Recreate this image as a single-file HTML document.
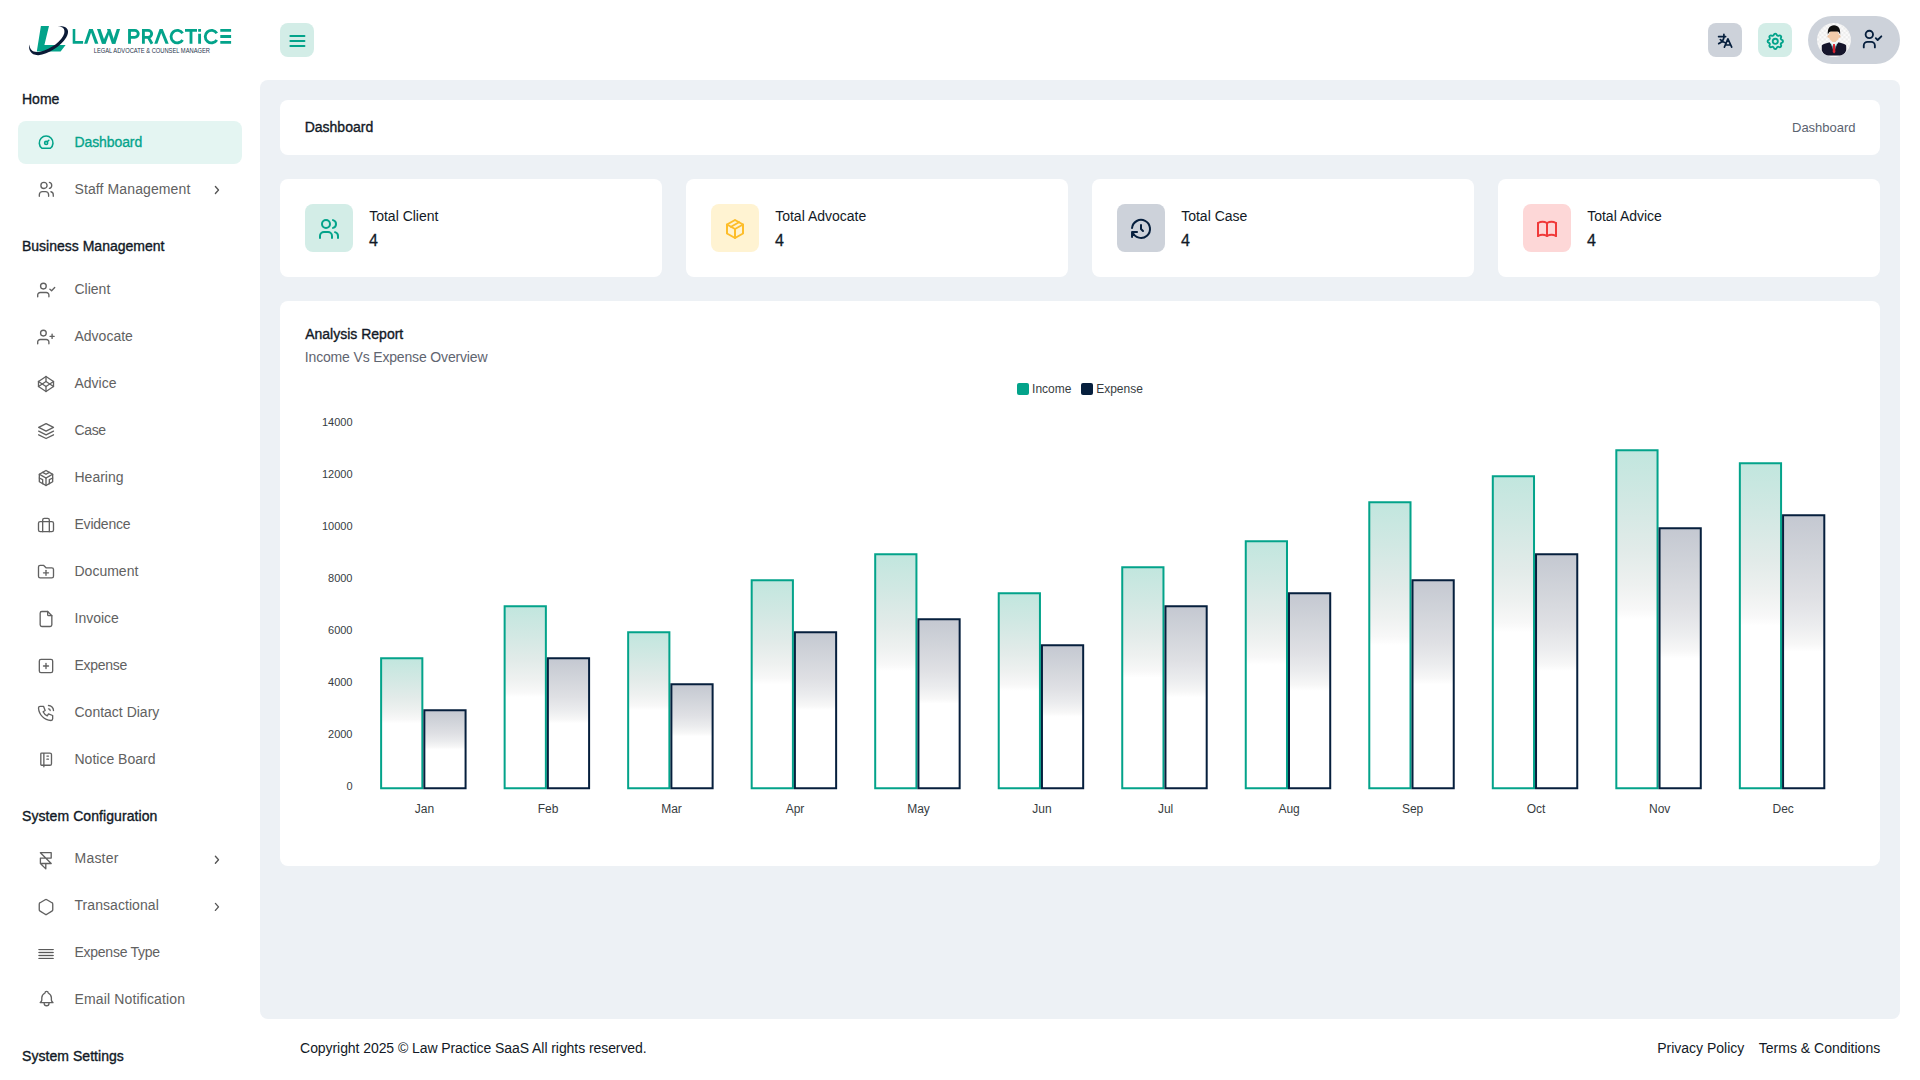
<!DOCTYPE html>
<html><head><meta charset="utf-8"><title>Law Practice - Dashboard</title><style>
*{box-sizing:border-box;margin:0;padding:0}
html,body{width:1920px;height:1080px;overflow:hidden;background:#fff;font-family:"Liberation Sans",sans-serif;color:#121926}
.a{position:absolute;white-space:nowrap}
.cap{position:absolute;left:22px;font-size:14px;line-height:16px;color:#121926;-webkit-text-stroke:0.35px #121926;white-space:nowrap}
.it{position:absolute;left:18px;width:224px;height:43px;border-radius:8px}
.it .t{position:absolute;left:56.5px;top:13px;font-size:14px;line-height:16px;color:#616161;white-space:nowrap}
.it.act{background:#e4f5f2}
.it.act .t{color:#03a38a;-webkit-text-stroke:0.3px #03a38a;letter-spacing:-0.1px !important}
.main{position:absolute;left:260px;top:80px;width:1640px;height:939px;background:#edf1f5;border-radius:8px}
.card{position:absolute;background:#fff;border-radius:8px}
.ib{position:absolute;left:25px;top:25px;width:48px;height:48px;border-radius:8px}
.sl{position:absolute;left:88px;top:208px;font-size:14px;line-height:16px;color:#121926;white-space:nowrap}
.sv{position:absolute;font-size:16px;line-height:18px;color:#121926;-webkit-text-stroke:0.3px #121926}
.foot{position:absolute;top:1040px;font-size:14px;line-height:16px;color:#121926;white-space:nowrap}
</style></head>
<body>
<svg class="a" style="left:0;top:0" width="260" height="80" viewBox="0 0 260 80">
  <path d="M40.9 26 L49 26 L44.4 44.9 L65.6 44.9 L60.6 51.4 L36.8 51.4 Z" fill="#03a38a"/>
  <path d="M29.6 44.6 C27.8 49.5 31 55.6 38.5 55.2 C48 54.8 61 46 66.2 37.6 C69.6 32 68.4 26.8 62 26.2 C60.5 26.1 59.2 26.2 57.8 26.5 C62.5 26.3 65.4 28.8 64.2 33.6 C62.5 40 51.5 49.5 40 51.8 C33.5 53 29.6 50.5 29.6 44.6 Z" fill="#0b1a36"/>
  <g fill="#03a38a">
    <path d="M72.7 29 H75.3 V41 H83.1 V43.8 H72.7 Z"/>
    <path d="M84.1 43.8 L89.1 29 L92.8 29 L98.4 43.8 L95 43.8 L91.1 32.4 L87.3 43.8 Z"/>
    <path d="M97 29 L100.5 29 L105.6 43.8 L101.9 43.8 Z"/>
    <path d="M101.9 43.8 L105.6 43.8 L109.6 32.6 L107.9 30.6 Z"/>
    <path d="M107 29 L110.4 29 L115.4 43.8 L111.9 43.8 Z"/>
    <path d="M111.9 43.8 L115.4 43.8 L120.1 29 L116.8 29 Z"/>
  </g>
  <g fill="none" stroke="#03a38a" stroke-width="2.85">
    <path d="M129.5 43.8 V30.4 H134.8 A3.45 3.45 0 0 1 134.8 37.3 H129.5"/>
    <path d="M143.4 43.8 V30.4 H148.2 A3.45 3.45 0 0 1 148.2 37.3 H143.4 M148.3 37.3 L152 43.8"/>
    <path d="M182.6 33.3 A6.25 6.25 0 1 0 182.6 39.9"/>
    <path d="M185 30.35 H197 M191 30.35 V43.8"/>
    <path d="M199.6 33.8 V43.8 M199.6 28.9 V31.7"/>
    <path d="M216.8 33.3 A6.25 6.25 0 1 0 216.8 39.9"/>
    <path d="M220.3 30.35 H231.1 M220.3 36.5 H231.1 M220.3 42.4 H231.1"/>
  </g>
  <path fill="#03a38a" d="M154.3 43.8 L159.6 29 L162.7 29 L168.7 43.8 L165.5 43.8 L161.2 33 L157.4 43.8 Z"/>
  <text x="93.7" y="53.1" font-family="Liberation Sans" font-size="7.2" fill="#27344d" textLength="116.3" lengthAdjust="spacingAndGlyphs">LEGAL ADVOCATE &amp; COUNSEL MANAGER</text>
</svg>
<div class="a" style="left:280px;top:23px;width:34px;height:34px;border-radius:8px;background:#d3ede7"></div>
<svg class="a" style="left:287px;top:30.8px;overflow:visible" width="20" height="20" viewBox="0 0 24 24" fill="none" stroke="#03a38a" stroke-width="2.3" stroke-linecap="round" stroke-linejoin="round" ><path d="M4 6h17"/><path d="M4 12h17"/><path d="M4 18h17"/></svg>
<div class="a" style="left:1708px;top:23px;width:34px;height:34px;border-radius:8px;background:#cdd2da"></div>
<svg class="a" style="left:1708px;top:23px" width="34" height="34" viewBox="1708 23 34 34" fill="none" stroke="#061f3d" stroke-width="1.7" stroke-linecap="round" stroke-linejoin="round"><path d="M1718.6 36.6 H1725.6 M1723.9 34.4 V36.4 M1724.1 37 C1723.5 40 1721.5 42.5 1718.7 43.6 M1720.3 39.6 C1721.6 41.3 1723.3 42.3 1725.2 42.8"/><path d="M1724.4 47.1 L1727.9 38.9 L1731.7 47.1 M1725.5 45 H1730.7"/></svg>
<div class="a" style="left:1758px;top:23px;width:34px;height:34px;border-radius:8px;background:#d3ede7"></div>
<svg class="a" style="left:1765.1px;top:30.6px;overflow:visible" width="20.6" height="20.6" viewBox="0 0 24 24" fill="none" stroke="#03a38a" stroke-width="2.15" stroke-linecap="round" stroke-linejoin="round" ><path d="M10.325 4.317c.426 -1.756 2.924 -1.756 3.35 0a1.724 1.724 0 0 0 2.573 1.066c1.543 -.94 3.31 .826 2.37 2.37a1.724 1.724 0 0 0 1.065 2.572c1.756 .426 1.756 2.924 0 3.35a1.724 1.724 0 0 0 -1.066 2.573c.94 1.543 -.826 3.31 -2.37 2.37a1.724 1.724 0 0 0 -2.572 1.065c-.426 1.756 -2.924 1.756 -3.35 0a1.724 1.724 0 0 0 -2.573 -1.066c-1.543 .94 -3.31 -.826 -2.37 -2.37a1.724 1.724 0 0 0 -1.065 -2.572c-1.756 -.426 -1.756 -2.924 0 -3.35a1.724 1.724 0 0 0 1.066 -2.573c-.94 -1.543 .826 -3.31 2.37 -2.37c1 .608 2.296 .07 2.572 -1.065z"/><circle cx="12" cy="12" r="3"/></svg>
<div class="a" style="left:1808px;top:16px;width:92px;height:48px;border-radius:24px;background:#cdd2da"></div>
<svg class="a" style="left:1817px;top:23px" width="34" height="34" viewBox="0 0 34 34">
  <defs><clipPath id="avc"><circle cx="17" cy="17" r="17"/></clipPath>
  <pattern id="chk" width="4.4" height="4.4" patternUnits="userSpaceOnUse"><rect width="4.4" height="4.4" fill="#fbfbfb"/><rect width="2.2" height="2.2" fill="#ededed"/><rect x="2.2" y="2.2" width="2.2" height="2.2" fill="#ededed"/></pattern></defs>
  <circle cx="17" cy="17" r="17" fill="url(#chk)"/>
  <g clip-path="url(#avc)">
    <rect x="15.2" y="15.5" width="3.8" height="5" fill="#e9bd9a"/>
    <path d="M4.8 22.6 C5.6 21 9 20 13 19.2 L17 23.5 L21.2 19.2 C25.2 20 28.5 21 29.2 22.6 L29.2 27.6 L26.6 32.6 L7.4 32.6 L4.8 27.6 Z" fill="#15152b"/>
    <path d="M12.9 18.8 L21.1 18.8 L21.3 19.4 L17 25 L12.7 19.4 Z" fill="#f1f6f6"/>
    <path d="M13.4 19.6 L16 26.8 L15.6 22.8 Z M20.6 19.6 L18 26.8 L18.4 22.8 Z" fill="#7dd0d6"/>
    <path d="M16.1 21 L17.9 21 L18.4 29 L17.1 30.6 L15.7 29 Z" fill="#d8222f"/>
    <ellipse cx="11.4" cy="13.4" rx="0.9" ry="1.4" fill="#eec19e"/>
    <ellipse cx="22.6" cy="13.4" rx="0.9" ry="1.4" fill="#eec19e"/>
    <ellipse cx="17" cy="12.9" rx="5.2" ry="5.8" fill="#f3ccaa"/>
    <path d="M10.9 11.8 C10.2 5.6 12.6 2.2 17 2.2 C21.4 2.2 23.8 5.6 23.1 11.8 C22.6 9.4 21.8 8.2 19.6 8.4 C17.6 8.6 14.6 8.1 13 8.7 C11.8 9.3 11.3 10.3 10.9 11.8 Z" fill="#0d0d0d"/>
  </g>
</svg>
<svg class="a" style="left:1861.2px;top:28.1px;overflow:visible" width="22.2" height="22.2" viewBox="0 0 24 24" fill="none" stroke="#061f3d" stroke-width="2" stroke-linecap="round" stroke-linejoin="round" ><circle cx="9" cy="7" r="4"/><path d="M3 21v-2a4 4 0 0 1 4 -4h4a4 4 0 0 1 4 4v2"/><path d="M16 11l2 2l4 -4"/></svg>
<div class="cap" style="top:91px;letter-spacing:0px">Home</div>
<div class="cap" style="top:238px;letter-spacing:0px">Business Management</div>
<div class="cap" style="top:808px;letter-spacing:0.08px">System Configuration</div>
<div class="cap" style="top:1048px;letter-spacing:0.05px">System Settings</div>
<div class="it act" style="top:121px"><div class="t" style="letter-spacing:0px">Dashboard</div></div>
<svg class="a" style="left:37.3px;top:132.6px;overflow:visible" width="18.3" height="18.3" viewBox="0 0 24 24" fill="none" stroke="#03a38a" stroke-width="2.05" stroke-linecap="round" stroke-linejoin="round" ><circle cx="12" cy="13" r="2"/><path d="M13.45 11.55l2.05 -2.05"/><path d="M6.4 20a9 9 0 1 1 11.2 0z"/></svg>
<div class="it" style="top:168px"><div class="t" style="letter-spacing:0.11px">Staff Management</div></div>
<svg class="a" style="left:36.9px;top:179.5px;overflow:visible" width="18.6" height="18.6" viewBox="0 0 24 24" fill="none" stroke="#616161" stroke-width="1.72" stroke-linecap="round" stroke-linejoin="round" ><circle cx="9" cy="7" r="4"/><path d="M3 21v-2a4 4 0 0 1 4 -4h4a4 4 0 0 1 4 4v2"/><path d="M16 3.13a4 4 0 0 1 0 7.75"/><path d="M21 21v-2a4 4 0 0 0 -3 -3.85"/></svg>
<svg class="a" style="left:206px;top:168px" width="20" height="43" viewBox="0 0 20 43"><path d="M9.4 18.5 l3.1 3.5 l-3.1 3.5" fill="none" stroke="#555" stroke-width="1.35" stroke-linecap="round" stroke-linejoin="round"/></svg>
<div class="it" style="top:268px"><div class="t" style="letter-spacing:0px">Client</div></div>
<svg class="a" style="left:0;top:268px;overflow:visible" width="60" height="43" viewBox="0 0 60 43" fill="none" stroke="#616161" stroke-width="1.35" stroke-linecap="round" stroke-linejoin="round"><circle cx="43.4" cy="18.1" r="2.85"/><path d="M37.7 28.7 v-1.6 a2.6 2.6 0 0 1 2.6 -2.6 h6.0 a2.6 2.6 0 0 1 2.6 2.6 v1.6"/><path d="M49.9 21.2 l1.7 1.5 l3.1 -3.2"/></svg>
<div class="it" style="top:315px"><div class="t" style="letter-spacing:0px">Advocate</div></div>
<svg class="a" style="left:0;top:315px;overflow:visible" width="60" height="43" viewBox="0 0 60 43" fill="none" stroke="#616161" stroke-width="1.35" stroke-linecap="round" stroke-linejoin="round"><circle cx="43.4" cy="18.1" r="2.85"/><path d="M37.7 28.7 v-1.6 a2.6 2.6 0 0 1 2.6 -2.6 h6.0 a2.6 2.6 0 0 1 2.6 2.6 v1.6"/><path d="M50 21.3 h4.2 M52.1 19.1 v4.3"/></svg>
<div class="it" style="top:362px"><div class="t" style="letter-spacing:0px">Advice</div></div>
<svg class="a" style="left:36.2px;top:374px;overflow:visible" width="20" height="20" viewBox="0 0 24 24" fill="none" stroke="#616161" stroke-width="1.6" stroke-linecap="round" stroke-linejoin="round" ><path d="M3 15l9 6l9 -6l-9 -6l-9 6"/><path d="M3 9l9 6l9 -6l-9 -6l-9 6"/><path d="M3 9l0 6"/><path d="M21 9l0 6"/><path d="M12 3l0 6"/><path d="M12 15l0 6"/></svg>
<div class="it" style="top:409px"><div class="t" style="letter-spacing:-0.35px">Case</div></div>
<svg class="a" style="left:34.9px;top:419.8px;overflow:visible" width="22.2" height="22.2" viewBox="0 0 24 24" fill="none" stroke="#616161" stroke-width="1.44" stroke-linecap="round" stroke-linejoin="round" ><path d="M12 4l-8 4l8 4l8 -4l-8 -4"/><path d="M4 12l8 4l8 -4"/><path d="M4 16l8 4l8 -4"/></svg>
<div class="it" style="top:456px"><div class="t" style="letter-spacing:0px">Hearing</div></div>
<svg class="a" style="left:36.2px;top:468px;overflow:visible" width="20" height="20" viewBox="0 0 24 24" fill="none" stroke="#616161" stroke-width="1.6" stroke-linecap="round" stroke-linejoin="round" ><path d="M20 7.5v9l-4 2.25l-4 2.25l-4 -2.25l-4 -2.25v-9l4 -2.25l4 -2.25l4 2.25z"/><path d="M12 12l4 -2.25l4 -2.25"/><path d="M12 12l0 9"/><path d="M12 12l-4 -2.25l-4 -2.25"/><path d="M20 12l-4 2v4.75"/><path d="M4 12l4 2l0 4.75"/><path d="M8 5.25l4 2.25l4 -2.25"/></svg>
<div class="it" style="top:503px"><div class="t" style="letter-spacing:-0.22px">Evidence</div></div>
<svg class="a" style="left:36.2px;top:515px;overflow:visible" width="20" height="20" viewBox="0 0 24 24" fill="none" stroke="#616161" stroke-width="1.6" stroke-linecap="round" stroke-linejoin="round" ><rect x="3" y="8" width="18" height="12" rx="2"/><path d="M8 20v-14a2 2 0 0 1 2 -2h4a2 2 0 0 1 2 2v14"/></svg>
<div class="it" style="top:550px"><div class="t" style="letter-spacing:0px">Document</div></div>
<svg class="a" style="left:36.2px;top:562px;overflow:visible" width="20" height="20" viewBox="0 0 24 24" fill="none" stroke="#616161" stroke-width="1.6" stroke-linecap="round" stroke-linejoin="round" ><path d="M5 4h4l3 3h7a2 2 0 0 1 2 2v8a2 2 0 0 1 -2 2h-14a2 2 0 0 1 -2 -2v-11a2 2 0 0 1 2 -2"/><path d="M12 10v6"/><path d="M9 13h6"/></svg>
<div class="it" style="top:597px"><div class="t" style="letter-spacing:0px">Invoice</div></div>
<svg class="a" style="left:36.2px;top:609px;overflow:visible" width="20" height="20" viewBox="0 0 24 24" fill="none" stroke="#616161" stroke-width="1.6" stroke-linecap="round" stroke-linejoin="round" ><path d="M14 3v4a1 1 0 0 0 1 1h4"/><path d="M17 21h-10a2 2 0 0 1 -2 -2v-14a2 2 0 0 1 2 -2h7l5 5v11a2 2 0 0 1 -2 2z"/></svg>
<div class="it" style="top:644px"><div class="t" style="letter-spacing:-0.28px">Expense</div></div>
<svg class="a" style="left:36.2px;top:656px;overflow:visible" width="20" height="20" viewBox="0 0 24 24" fill="none" stroke="#616161" stroke-width="1.6" stroke-linecap="round" stroke-linejoin="round" ><rect x="4" y="4" width="16" height="16" rx="2"/><path d="M9 12h6"/><path d="M12 9v6"/></svg>
<div class="it" style="top:691px"><div class="t" style="letter-spacing:0px">Contact Diary</div></div>
<svg class="a" style="left:36.2px;top:703px;overflow:visible" width="20" height="20" viewBox="0 0 24 24" fill="none" stroke="#616161" stroke-width="1.6" stroke-linecap="round" stroke-linejoin="round" ><path d="M5 4h4l2 5l-2.5 1.5a11 11 0 0 0 5 5l1.5 -2.5l5 2v4a2 2 0 0 1 -2 2a16 16 0 0 1 -15 -15a2 2 0 0 1 2 -2"/><path d="M15 7a2 2 0 0 1 2 2"/><path d="M15 3a6 6 0 0 1 6 6"/></svg>
<div class="it" style="top:738px"><div class="t" style="letter-spacing:0px">Notice Board</div></div>
<svg class="a" style="left:36.7px;top:749.5px;overflow:visible" width="18.3" height="18.3" viewBox="0 0 24 24" fill="none" stroke="#616161" stroke-width="1.75" stroke-linecap="round" stroke-linejoin="round" ><path d="M6 4h11a2 2 0 0 1 2 2v12a2 2 0 0 1 -2 2h-11a1 1 0 0 1 -1 -1v-14a1 1 0 0 1 1 -1m3 0v18"/><path d="M13 8l2 0"/><path d="M13 12l2 0"/></svg>
<div class="it" style="top:837px"><div class="t" style="letter-spacing:0.22px">Master</div></div>
<svg class="a" style="left:35.1px;top:849.6px;overflow:visible" width="21.6" height="21.6" viewBox="0 0 24 24" fill="none" stroke="#616161" stroke-width="1.48" stroke-linecap="round" stroke-linejoin="round" ><path d="M6 15h12l-12 -12h12v6h-12v6l6 6v-6"/></svg>
<svg class="a" style="left:206px;top:837px" width="20" height="43" viewBox="0 0 20 43"><path d="M9.4 19.3 l3.1 3.5 l-3.1 3.5" fill="none" stroke="#555" stroke-width="1.35" stroke-linecap="round" stroke-linejoin="round"/></svg>
<div class="it" style="top:884px"><div class="t" style="letter-spacing:0.06px">Transactional</div></div>
<svg class="a" style="left:37px;top:898px;overflow:visible" width="18" height="18" viewBox="0 0 24 24" fill="none" stroke="#616161" stroke-width="1.78" stroke-linecap="round" stroke-linejoin="round" ><path d="M19.875 6.27a2.225 2.225 0 0 1 1.125 1.948v7.284c0 .809 -.443 1.555 -1.158 1.948l-6.75 4.27a2.269 2.269 0 0 1 -2.184 0l-6.75 -4.27a2.225 2.225 0 0 1 -1.158 -1.948v-7.285c0 -.809 .443 -1.554 1.158 -1.947l6.75 -3.98a2.33 2.33 0 0 1 2.25 0l6.75 3.98h-.033z"/></svg>
<svg class="a" style="left:206px;top:884px" width="20" height="43" viewBox="0 0 20 43"><path d="M9.4 19.4 l3.1 3.5 l-3.1 3.5" fill="none" stroke="#555" stroke-width="1.35" stroke-linecap="round" stroke-linejoin="round"/></svg>
<div class="it" style="top:931px"><div class="t" style="letter-spacing:-0.26px">Expense Type</div></div>
<svg class="a" style="left:36px;top:931px" width="20" height="43" viewBox="0 0 20 43"><rect x="2.8" y="18.5" width="14.5" height="9" fill="#e4e4e4"/><line x1="2.8" x2="17.3" y1="18.5" y2="18.5" stroke="#5a5a5a" stroke-width="1.15" stroke-linecap="round"/><line x1="2.8" x2="17.3" y1="21.5" y2="21.5" stroke="#5a5a5a" stroke-width="1.15" stroke-linecap="round"/><line x1="2.8" x2="17.3" y1="24.5" y2="24.5" stroke="#5a5a5a" stroke-width="1.15" stroke-linecap="round"/><line x1="2.8" x2="17.3" y1="27.5" y2="27.5" stroke="#5a5a5a" stroke-width="1.15" stroke-linecap="round"/></svg>
<div class="it" style="top:978px"><div class="t" style="letter-spacing:0.14px">Email Notification</div></div>
<svg class="a" style="left:36.5px;top:989.2px;overflow:visible" width="19.2" height="19.2" viewBox="0 0 24 24" fill="none" stroke="#616161" stroke-width="1.67" stroke-linecap="round" stroke-linejoin="round" ><path d="M10 5a2 2 0 0 1 4 0a7 7 0 0 1 4 6v3a4 4 0 0 0 2 3h-16a4 4 0 0 0 2 -3v-3a7 7 0 0 1 4 -6"/><path d="M9 17v1a3 3 0 0 0 6 0v-1"/></svg>
<div class="main"></div>
<div class="card" style="left:280px;top:100px;width:1600px;height:55px"></div>
<div class="a" style="left:304.7px;top:119px;font-size:14px;line-height:16px;color:#121926;-webkit-text-stroke:0.35px #121926">Dashboard</div>
<div class="a" style="left:1792px;top:120px;font-size:13px;line-height:16px;color:#5b6370">Dashboard</div>
<div class="card" style="left:280px;top:179px;width:382px;height:98px"></div>
<div class="a" style="left:305px;top:204px;width:48px;height:48px;border-radius:8px;background:#d3ede7"></div>
<svg class="a" style="left:317.2px;top:217.2px;overflow:visible" width="24" height="24" viewBox="0 0 24 24" fill="none" stroke="#03a38a" stroke-width="2" stroke-linecap="round" stroke-linejoin="round" ><circle cx="9" cy="7" r="4"/><path d="M3 21v-2a4 4 0 0 1 4 -4h4a4 4 0 0 1 4 4v2"/><path d="M16 3.13a4 4 0 0 1 0 7.75"/><path d="M21 21v-2a4 4 0 0 0 -3 -3.85"/></svg>
<div class="sl" style="left:369.2px">Total Client</div>
<div class="sv" style="left:369px;top:232px">4</div>
<div class="card" style="left:686px;top:179px;width:382px;height:98px"></div>
<div class="a" style="left:711px;top:204px;width:48px;height:48px;border-radius:8px;background:#fff3d2"></div>
<svg class="a" style="left:723.2px;top:217.2px;overflow:visible" width="24" height="24" viewBox="0 0 24 24" fill="none" stroke="#fdbd2a" stroke-width="2" stroke-linecap="round" stroke-linejoin="round" ><path d="M12 3l8 4.5l0 9l-8 4.5l-8 -4.5l0 -9l8 -4.5"/><path d="M12 12l8 -4.5"/><path d="M12 12l0 9"/><path d="M12 12l-8 -4.5"/><path d="M16 5.25l-8 4.5"/></svg>
<div class="sl" style="left:775.2px">Total Advocate</div>
<div class="sv" style="left:775px;top:232px">4</div>
<div class="card" style="left:1092px;top:179px;width:382px;height:98px"></div>
<div class="a" style="left:1117px;top:204px;width:48px;height:48px;border-radius:8px;background:#cdd2da"></div>
<svg class="a" style="left:1129.2px;top:217.2px;overflow:visible" width="24" height="24" viewBox="0 0 24 24" fill="none" stroke="#061f3d" stroke-width="2" stroke-linecap="round" stroke-linejoin="round" ><path d="M12 8l0 4l2 2"/><path d="M3.05 11a9 9 0 1 1 .5 4m-.5 5v-5h5"/></svg>
<div class="sl" style="left:1181.2px">Total Case</div>
<div class="sv" style="left:1181px;top:232px">4</div>
<div class="card" style="left:1498px;top:179px;width:382px;height:98px"></div>
<div class="a" style="left:1523px;top:204px;width:48px;height:48px;border-radius:8px;background:#fdd7d7"></div>
<svg class="a" style="left:1535.2px;top:217.2px;overflow:visible" width="24" height="24" viewBox="0 0 24 24" fill="none" stroke="#f03a3a" stroke-width="2" stroke-linecap="round" stroke-linejoin="round" ><path d="M3 19a9 9 0 0 1 9 0a9 9 0 0 1 9 0"/><path d="M3 6a9 9 0 0 1 9 0a9 9 0 0 1 9 0"/><path d="M3 6l0 13"/><path d="M12 6l0 13"/><path d="M21 6l0 13"/></svg>
<div class="sl" style="left:1587.2px">Total Advice</div>
<div class="sv" style="left:1587px;top:232px">4</div>
<div class="card" style="left:280px;top:301px;width:1600px;height:565px"></div>
<div class="a" style="left:305.2px;top:326px;font-size:14px;line-height:16px;color:#121926;-webkit-text-stroke:0.35px #121926">Analysis Report</div>
<div class="a" style="left:304.8px;top:349px;font-size:14px;line-height:16px;color:#5f6570;letter-spacing:-0.16px">Income Vs Expense Overview</div>
<svg class="a" style="left:0;top:0" width="1920" height="1080" viewBox="0 0 1920 1080"><defs>
<linearGradient id="gi" x1="0" y1="0" x2="0" y2="1">
 <stop offset="0" stop-color="#c1e6de"/><stop offset="0.15" stop-color="#d1e8e3"/><stop offset="0.3" stop-color="#e2ebe9"/><stop offset="0.4" stop-color="#eef1f0"/><stop offset="0.47" stop-color="#f8f8f8"/><stop offset="0.50" stop-color="#ffffff"/><stop offset="1" stop-color="#ffffff"/>
</linearGradient>
<linearGradient id="ge" x1="0" y1="0" x2="0" y2="1">
 <stop offset="0" stop-color="#c4c8d1"/><stop offset="0.15" stop-color="#d1d4da"/><stop offset="0.3" stop-color="#dfe0e4"/><stop offset="0.4" stop-color="#ebecee"/><stop offset="0.47" stop-color="#f7f7f7"/><stop offset="0.50" stop-color="#ffffff"/><stop offset="1" stop-color="#ffffff"/>
</linearGradient>
</defs><rect x="1017" y="383" width="12" height="12" rx="2" fill="#03a38a"/><rect x="1081" y="383" width="12" height="12" rx="2" fill="#061f3d"/><text x="1032.1" y="392.9" font-family="Liberation Sans" font-size="12" fill="#373d3f">Income</text><text x="1096.2" y="392.9" font-family="Liberation Sans" font-size="12" fill="#373d3f">Expense</text><text x="352.5" y="790.2" text-anchor="end" font-family="Liberation Sans" font-size="11" fill="#373d3f">0</text><text x="352.5" y="738.2" text-anchor="end" font-family="Liberation Sans" font-size="11" fill="#373d3f">2000</text><text x="352.5" y="686.2" text-anchor="end" font-family="Liberation Sans" font-size="11" fill="#373d3f">4000</text><text x="352.5" y="634.2" text-anchor="end" font-family="Liberation Sans" font-size="11" fill="#373d3f">6000</text><text x="352.5" y="582.2" text-anchor="end" font-family="Liberation Sans" font-size="11" fill="#373d3f">8000</text><text x="352.5" y="530.2" text-anchor="end" font-family="Liberation Sans" font-size="11" fill="#373d3f">10000</text><text x="352.5" y="478.2" text-anchor="end" font-family="Liberation Sans" font-size="11" fill="#373d3f">12000</text><text x="352.5" y="426.2" text-anchor="end" font-family="Liberation Sans" font-size="11" fill="#373d3f">14000</text><path d="M381.12 788.2 V658.20 H422.35 V788.2 Z" fill="url(#gi)" stroke="#03a38a" stroke-width="2"/><path d="M424.35 788.2 V710.20 H465.58 V788.2 Z" fill="url(#ge)" stroke="#061f3d" stroke-width="2"/><text x="424.45" y="812.6" text-anchor="middle" font-family="Liberation Sans" font-size="12" fill="#373d3f">Jan</text><path d="M504.64 788.2 V606.20 H545.87 V788.2 Z" fill="url(#gi)" stroke="#03a38a" stroke-width="2"/><path d="M547.87 788.2 V658.20 H589.10 V788.2 Z" fill="url(#ge)" stroke="#061f3d" stroke-width="2"/><text x="547.97" y="812.6" text-anchor="middle" font-family="Liberation Sans" font-size="12" fill="#373d3f">Feb</text><path d="M628.16 788.2 V632.20 H669.39 V788.2 Z" fill="url(#gi)" stroke="#03a38a" stroke-width="2"/><path d="M671.39 788.2 V684.20 H712.62 V788.2 Z" fill="url(#ge)" stroke="#061f3d" stroke-width="2"/><text x="671.49" y="812.6" text-anchor="middle" font-family="Liberation Sans" font-size="12" fill="#373d3f">Mar</text><path d="M751.68 788.2 V580.20 H792.91 V788.2 Z" fill="url(#gi)" stroke="#03a38a" stroke-width="2"/><path d="M794.91 788.2 V632.20 H836.14 V788.2 Z" fill="url(#ge)" stroke="#061f3d" stroke-width="2"/><text x="795.01" y="812.6" text-anchor="middle" font-family="Liberation Sans" font-size="12" fill="#373d3f">Apr</text><path d="M875.20 788.2 V554.20 H916.43 V788.2 Z" fill="url(#gi)" stroke="#03a38a" stroke-width="2"/><path d="M918.43 788.2 V619.20 H959.66 V788.2 Z" fill="url(#ge)" stroke="#061f3d" stroke-width="2"/><text x="918.53" y="812.6" text-anchor="middle" font-family="Liberation Sans" font-size="12" fill="#373d3f">May</text><path d="M998.72 788.2 V593.20 H1039.95 V788.2 Z" fill="url(#gi)" stroke="#03a38a" stroke-width="2"/><path d="M1041.95 788.2 V645.20 H1083.18 V788.2 Z" fill="url(#ge)" stroke="#061f3d" stroke-width="2"/><text x="1042.05" y="812.6" text-anchor="middle" font-family="Liberation Sans" font-size="12" fill="#373d3f">Jun</text><path d="M1122.24 788.2 V567.20 H1163.47 V788.2 Z" fill="url(#gi)" stroke="#03a38a" stroke-width="2"/><path d="M1165.47 788.2 V606.20 H1206.70 V788.2 Z" fill="url(#ge)" stroke="#061f3d" stroke-width="2"/><text x="1165.57" y="812.6" text-anchor="middle" font-family="Liberation Sans" font-size="12" fill="#373d3f">Jul</text><path d="M1245.76 788.2 V541.20 H1286.99 V788.2 Z" fill="url(#gi)" stroke="#03a38a" stroke-width="2"/><path d="M1288.99 788.2 V593.20 H1330.22 V788.2 Z" fill="url(#ge)" stroke="#061f3d" stroke-width="2"/><text x="1289.09" y="812.6" text-anchor="middle" font-family="Liberation Sans" font-size="12" fill="#373d3f">Aug</text><path d="M1369.28 788.2 V502.20 H1410.51 V788.2 Z" fill="url(#gi)" stroke="#03a38a" stroke-width="2"/><path d="M1412.51 788.2 V580.20 H1453.74 V788.2 Z" fill="url(#ge)" stroke="#061f3d" stroke-width="2"/><text x="1412.61" y="812.6" text-anchor="middle" font-family="Liberation Sans" font-size="12" fill="#373d3f">Sep</text><path d="M1492.80 788.2 V476.20 H1534.03 V788.2 Z" fill="url(#gi)" stroke="#03a38a" stroke-width="2"/><path d="M1536.03 788.2 V554.20 H1577.26 V788.2 Z" fill="url(#ge)" stroke="#061f3d" stroke-width="2"/><text x="1536.13" y="812.6" text-anchor="middle" font-family="Liberation Sans" font-size="12" fill="#373d3f">Oct</text><path d="M1616.32 788.2 V450.20 H1657.55 V788.2 Z" fill="url(#gi)" stroke="#03a38a" stroke-width="2"/><path d="M1659.55 788.2 V528.20 H1700.78 V788.2 Z" fill="url(#ge)" stroke="#061f3d" stroke-width="2"/><text x="1659.65" y="812.6" text-anchor="middle" font-family="Liberation Sans" font-size="12" fill="#373d3f">Nov</text><path d="M1739.84 788.2 V463.20 H1781.07 V788.2 Z" fill="url(#gi)" stroke="#03a38a" stroke-width="2"/><path d="M1783.07 788.2 V515.20 H1824.30 V788.2 Z" fill="url(#ge)" stroke="#061f3d" stroke-width="2"/><text x="1783.17" y="812.6" text-anchor="middle" font-family="Liberation Sans" font-size="12" fill="#373d3f">Dec</text></svg>
<div class="foot" style="left:300.1px;letter-spacing:-0.07px">Copyright 2025 © Law Practice SaaS All rights reserved.</div>
<div class="foot" style="left:1657.2px;letter-spacing:0px">Privacy Policy</div>
<div class="foot" style="left:1758.8px;letter-spacing:0px">Terms &amp; Conditions</div>
</body></html>
